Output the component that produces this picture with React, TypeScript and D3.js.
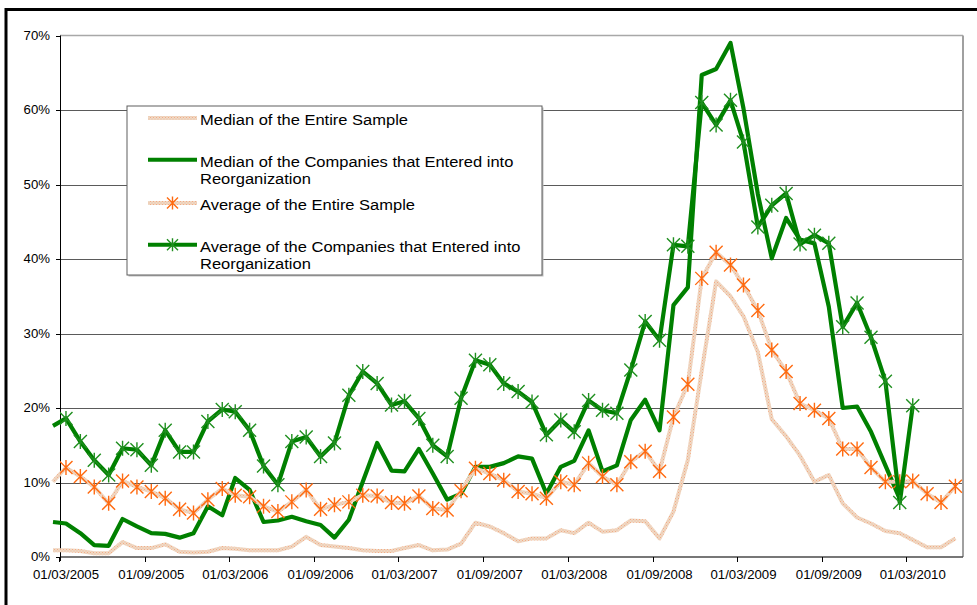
import React from "react";
import * as d3 from "d3";

// ---- Data (values in %) ----
const monthStart = new Date(2005, 1, 1); // Feb 2005
const monthEnd = new Date(2010, 6, 1); // exclusive -> Jun 2010
const months = d3.timeMonth.range(monthStart, monthEnd); // 65 months

const tickLabels = [
  "01/03/2005", "01/09/2005", "01/03/2006", "01/09/2006", "01/03/2007", "01/09/2007",
  "01/03/2008", "01/09/2008", "01/03/2009", "01/09/2009", "01/03/2010",
];
const yTicks = [0, 10, 20, 30, 40, 50, 60, 70];

const medianAll = [
  0.9, 0.9, 0.8, 0.5, 0.5, 2.0, 1.2, 1.2, 1.7, 0.7, 0.6, 0.7, 1.2, 1.1, 0.9, 0.9,
  0.9, 1.4, 2.7, 1.6, 1.4, 1.2, 0.9, 0.8, 0.8, 1.2, 1.6, 0.9, 1.0, 1.8, 4.6, 4.1,
  3.2, 2.1, 2.5, 2.5, 3.6, 3.2, 4.6, 3.4, 3.6, 4.9, 4.8, 2.5, 6.1, 13.0, 25.0, 37.0,
  35.0, 32.3, 27.5, 18.5, 16.2, 13.6, 10.1, 11.0, 7.2, 5.3, 4.5, 3.5, 3.2, 2.3, 1.3, 1.3,
  2.5,
];
const medianReorg = [
  4.7, 4.5, 3.2, 1.6, 1.5, 5.1, 4.1, 3.2, 3.1, 2.6, 3.2, 6.8, 5.6, 10.6, 9.0, 4.7,
  4.9, 5.4, 4.8, 4.3, 2.6, 5.0, 10.1, 15.3, 11.6, 11.5, 14.5, 11.2, 7.7, 8.5, 12.1, 12.1,
  12.6, 13.5, 13.2, 8.5, 12.1, 12.9, 17.0, 11.5, 12.3, 18.4, 21.1, 17.0, 33.8, 36.2, 64.7, 65.5,
  69.0, 60.2, 48.7, 40.1, 45.5, 42.6, 42.1, 33.6, 20.0, 20.2, 16.8, 12.3, 7.8, null, null, null,
  null,
];
const avgAll = [
  10.1, 12.0, 10.8, 9.4, 7.2, 10.2, 9.4, 8.8, 7.9, 6.4, 5.9, 7.7, 9.2, 8.3, 8.1, 6.8,
  6.1, 7.4, 9.0, 6.4, 7.0, 7.4, 8.3, 8.2, 7.3, 7.2, 8.2, 6.5, 6.3, 8.9, 11.9, 11.2,
  10.3, 8.8, 8.5, 7.9, 10.1, 9.7, 12.6, 10.8, 9.7, 12.8, 14.2, 11.5, 18.8, 23.2, 37.4, 40.9,
  39.2, 36.5, 33.1, 27.8, 24.9, 20.6, 19.7, 18.6, 14.5, 14.5, 12.0, 10.1, 10.1, 10.2, 8.5, 7.3,
  9.5,
];
const avgReorg = [
  17.6, 18.6, 15.5, 13.0, 11.0, 14.6, 14.4, 12.3, 17.0, 14.1, 14.1, 18.2, 19.8, 19.5, 17.0, 12.2,
  9.7, 15.5, 16.1, 13.5, 15.3, 21.7, 24.9, 23.3, 20.4, 20.9, 18.6, 15.0, 13.5, 21.3, 26.4, 25.8,
  23.3, 22.2, 20.8, 16.4, 18.4, 16.8, 21.0, 19.7, 19.3, 25.1, 31.6, 29.1, 41.9, 41.7, 61.0, 58.0,
  61.3, 55.7, 44.3, 47.2, 48.8, 42.0, 43.2, 42.1, 30.9, 34.1, 29.5, 23.6, 7.3, 20.3, null, null,
  null,
];

const legendLabels = [
  ["Median of the Entire Sample"],
  ["Median of the Companies that Entered into", "Reorganization"],
  ["Average of the Entire Sample"],
  ["Average of the Companies that Entered into", "Reorganization"],
];

// ---- Layout ----
const W = 977;
const H = 605;
const plotL = 60;
const plotR = 963;
const plotT = 35.5;
const plotB = 557;

const GREEN = "#008000";
const MARK_GREEN = "#1f8f1f";
const ORANGE = "#ff6a10";
const FONT = "'Liberation Sans', Arial, sans-serif";
const SX = 1.1; // horizontal text stretch

const mid = (m: Date) => d3.timeDay.offset(m, 14);
const parseTick = d3.timeParse("%d/%m/%Y");

const x = d3
  .scaleTime()
  .domain([mid(months[0]), mid(months[months.length - 1])])
  .range([53, 955.4]);
const y = d3.scaleLinear().domain([0, 70]).range([plotB, plotT]);

type P = { d: Date; v: number | null };
const toPts = (arr: (number | null)[]): P[] => months.map((m, i) => ({ d: mid(m), v: arr[i] }));

const lineGen = d3
  .line<P>()
  .defined((p) => p.v != null)
  .x((p) => x(p.d))
  .y((p) => y(p.v as number));

function Star({ cx, cy, color, r = 6.5 }: { cx: number; cy: number; color: string; r?: number }) {
  const d = `M${cx - r},${cy - r}L${cx + r},${cy + r}M${cx - r},${cy + r}L${cx + r},${cy - r}M${cx},${cy - r - 1}L${cx},${cy + r + 1}`;
  return <path d={d} stroke={color} strokeWidth={1.4} fill="none" />;
}

function T({ x: tx, y: ty, anchor, size, children }: any) {
  return (
    <text
      transform={`translate(${tx},${ty}) scale(${SX},1)`}
      textAnchor={anchor}
      fontFamily={FONT}
      fontSize={size}
      fill="#000"
    >
      {children}
    </text>
  );
}

export default function App() {
  const sMedAll = toPts(medianAll);
  const sMedRe = toPts(medianReorg);
  const sAvgAll = toPts(avgAll);
  const sAvgRe = toPts(avgReorg);
  const tickDates = tickLabels.map((t) => parseTick(t) as Date);

  const legendX1 = 148;
  const legendX2 = 197;
  const legendTextX = 200;
  const legendBase = [125, 166.7, 210, 251.7];

  return (
    <svg
      width={W}
      height={H}
      style={{ position: "absolute", left: 0, top: 0, background: "#fff" }}
    >
      <defs>
        <pattern id="tanPat" width="3" height="3" patternUnits="userSpaceOnUse">
          <rect width="3" height="3" fill="#eed9c5" />
          <rect x="0" y="0" width="1" height="1" fill="#f5ab85" />
          <rect x="1.5" y="1.5" width="1" height="1" fill="#f3b896" />
        </pattern>
        <clipPath id="markClip">
          <rect x={plotL} y={0} width={W - plotL} height={H} />
        </clipPath>
      </defs>

      {/* outer frame */}
      <path d={`M6,${H} L6,9.5 L${W},9.5`} stroke="#000" strokeWidth={3} fill="none" />

      {/* gridlines */}
      {yTicks
        .filter((t) => t > 0 && t < 70)
        .map((t) => (
          <line key={t} x1={plotL} x2={plotR} y1={Math.round(y(t)) + 0.5} y2={Math.round(y(t)) + 0.5} stroke="#5a5a5a" strokeWidth={1} />
        ))}
      {/* plot border top / right */}
      <line x1={plotL} x2={plotR} y1={plotT} y2={plotT} stroke="#a8a8a8" strokeWidth={1.5} />
      <line x1={plotR} x2={plotR} y1={plotT} y2={plotB} stroke="#a0a0a0" strokeWidth={2} />

      {/* axes */}
      <line x1={plotL} x2={plotR} y1={plotB} y2={plotB} stroke="#4a4a4a" strokeWidth={1.5} />
      <line x1={plotL + 0.5} x2={plotL + 0.5} y1={plotT} y2={plotB + 4} stroke="#000" strokeWidth={1} />
      {yTicks.map((t) => (
        <g key={"yt" + t}>
          <line x1={56} x2={plotL} y1={Math.round(y(t)) + 0.5} y2={Math.round(y(t)) + 0.5} stroke="#000" strokeWidth={1} />
          <T x={50} y={y(t) + 4.3} anchor="end" size={12}>
            {t + "%"}
          </T>
        </g>
      ))}
      {tickDates.map((d, i) => (
        <g key={"xt" + i}>
          <line x1={Math.round(x(d)) + 0.5} x2={Math.round(x(d)) + 0.5} y1={plotB} y2={plotB + 5} stroke="#000" strokeWidth={1} />
          <T x={x(d3.timeDay.offset(d, 14))} y={579} anchor="middle" size={12}>
            {tickLabels[i]}
          </T>
        </g>
      ))}

      {/* series */}
      <path d={lineGen(sMedAll) || ""} stroke="url(#tanPat)" strokeWidth={4} fill="none" strokeLinejoin="round" />
      <path d={lineGen(sMedRe) || ""} stroke={GREEN} strokeWidth={4.2} fill="none" strokeLinejoin="round" />
      <path d={lineGen(sAvgAll) || ""} stroke="url(#tanPat)" strokeWidth={4} fill="none" strokeLinejoin="round" />
      <g clipPath="url(#markClip)">
        {sAvgAll
          .filter((p) => p.v != null)
          .map((p, i) => (
            <Star key={"oa" + i} cx={x(p.d)} cy={y(p.v as number)} color={ORANGE} />
          ))}
      </g>
      <path d={lineGen(sAvgRe) || ""} stroke={GREEN} strokeWidth={4.2} fill="none" strokeLinejoin="round" />
      <g clipPath="url(#markClip)">
        {sAvgRe
          .filter((p) => p.v != null)
          .map((p, i) => (
            <Star key={"ga" + i} cx={x(p.d)} cy={y(p.v as number)} color={MARK_GREEN} />
          ))}
      </g>

      {/* legend */}
      <rect x={128.5} y={107.5} width={415} height={169} fill="#bdbdbd" />
      <rect x={127} y={106} width={415} height={169} fill="#fff" stroke="#5e5e5e" strokeWidth={1} />
      {legendLabels.map((lines, i) => {
        const ly = legendBase[i] - 7;
        const isTan = i === 0 || i === 2;
        return (
          <g key={"lg" + i}>
            <line
              x1={legendX1}
              x2={legendX2}
              y1={ly}
              y2={ly}
              stroke={isTan ? "url(#tanPat)" : GREEN}
              strokeWidth={4}
            />
            {i === 2 && <Star cx={(legendX1 + legendX2) / 2} cy={ly} color={ORANGE} r={5.5} />}
            {i === 3 && <Star cx={(legendX1 + legendX2) / 2} cy={ly} color={MARK_GREEN} r={5.5} />}
            {lines.map((s, j) => (
              <T key={j} x={legendTextX} y={legendBase[i] + j * 17.6} anchor="start" size={15}>
                {s}
              </T>
            ))}
          </g>
        );
      })}
    </svg>
  );
}
